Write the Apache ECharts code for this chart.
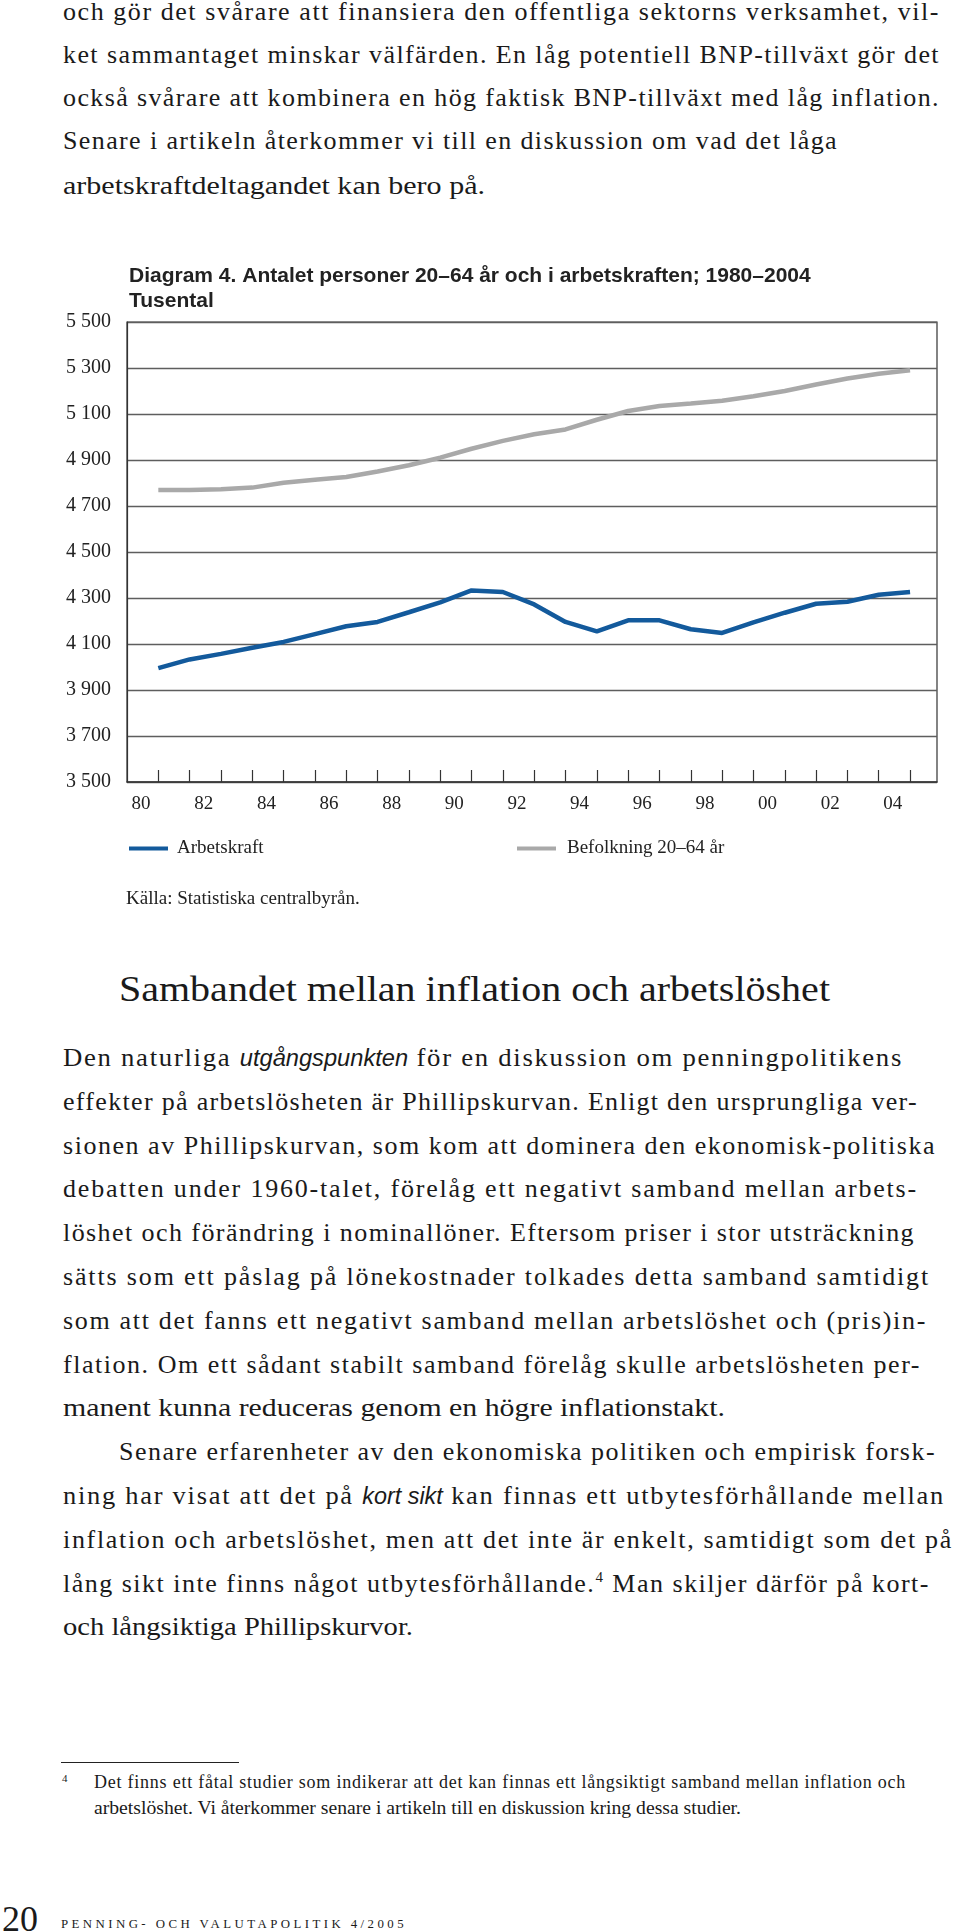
<!DOCTYPE html>
<html lang="sv">
<head>
<meta charset="utf-8">
<script src="https://cdn.jsdelivr.net/npm/echarts@6/dist/echarts.min.js"></script>
<style>
  html, body { margin:0; padding:0; background:#fff; }
  #page { position:relative; width:960px; height:1932px; overflow:hidden; background:#fff; color:#1a1a1a;
          font-family:"Liberation Serif","Times New Roman",serif; }
  .ln { position:absolute; white-space:nowrap; line-height:1; transform-origin:0 0; }
  .b { font-size:26px; }
  .ss { font-family:"Liberation Sans",Arial,sans-serif; font-style:italic; font-size:23px; letter-spacing:0 !important; }
  .h { font-size:35px; }
  .fn { font-size:18px; }
  sup { font-size:15px; vertical-align:0; position:relative; top:-10px; }
  #chart { position:absolute; left:0; top:230px; width:960px; height:700px; }
</style>
</head>
<body>
<div id="page">
  <!-- paragraph 1 -->
  <div class="ln b" data-x0="63" data-x1="940" data-yc="15" data-j="1">och gör det svårare att finansiera den offentliga sektorns verksamhet, vil-</div>
  <div class="ln b" data-x0="63" data-x1="940" data-yc="58" data-j="1">ket sammantaget minskar välfärden. En låg potentiell BNP-tillväxt gör det</div>
  <div class="ln b" data-x0="63" data-x1="940" data-yc="101" data-j="1">också svårare att kombinera en hög faktisk BNP-tillväxt med låg inflation.</div>
  <div class="ln b" data-x0="63" data-x1="838" data-yc="144" data-j="1">Senare i artikeln återkommer vi till en diskussion om vad det låga</div>
  <div class="ln b" data-x0="63" data-x1="485" data-yc="189">arbetskraftdeltagandet kan bero på.</div>

  <div id="chart"></div>

  <!-- heading -->
  <div class="ln h" data-x0="119" data-x1="830" data-yc="993">Sambandet mellan inflation och arbetslöshet</div>

  <!-- paragraph 2 -->
  <div class="ln b" data-x0="63" data-x1="903" data-yc="1061" data-j="1">Den naturliga <span class="ss">utgångspunkten</span> för en diskussion om penningpolitikens</div>
  <div class="ln b" data-x0="63" data-x1="918" data-yc="1105" data-j="1">effekter på arbetslösheten är Phillipskurvan. Enligt den ursprungliga ver-</div>
  <div class="ln b" data-x0="63" data-x1="936" data-yc="1149" data-j="1">sionen av Phillipskurvan, som kom att dominera den ekonomisk-politiska</div>
  <div class="ln b" data-x0="63" data-x1="918" data-yc="1192" data-j="1">debatten under 1960-talet, förelåg ett negativt samband mellan arbets-</div>
  <div class="ln b" data-x0="63" data-x1="915" data-yc="1236" data-j="1">löshet och förändring i nominallöner. Eftersom priser i stor utsträckning</div>
  <div class="ln b" data-x0="63" data-x1="930" data-yc="1280" data-j="1">sätts som ett påslag på lönekostnader tolkades detta samband samtidigt</div>
  <div class="ln b" data-x0="63" data-x1="927" data-yc="1324" data-j="1">som att det fanns ett negativt samband mellan arbetslöshet och (pris)in-</div>
  <div class="ln b" data-x0="63" data-x1="921" data-yc="1368" data-j="1">flation. Om ett sådant stabilt samband förelåg skulle arbetslösheten per-</div>
  <div class="ln b" data-x0="63" data-x1="725" data-yc="1411">manent kunna reduceras genom en högre inflationstakt.</div>
  <div class="ln b" data-x0="119" data-x1="936" data-yc="1455" data-j="1">Senare erfarenheter av den ekonomiska politiken och empirisk forsk-</div>
  <div class="ln b" data-x0="63" data-x1="945" data-yc="1499" data-j="1">ning har visat att det på <span class="ss">kort sikt</span> kan finnas ett utbytesförhållande mellan</div>
  <div class="ln b" data-x0="63" data-x1="953" data-yc="1543" data-j="1">inflation och arbetslöshet, men att det inte är enkelt, samtidigt som det på</div>
  <div class="ln b" data-x0="63" data-x1="930" data-yc="1587" data-j="1">lång sikt inte finns något utbytesförhållande.<sup>4</sup> Man skiljer därför på kort-</div>
  <div class="ln b" data-x0="63" data-x1="413" data-yc="1630">och långsiktiga Phillipskurvor.</div>

  <!-- footnote -->
  <div style="position:absolute;left:61px;top:1762px;width:178px;height:1.3px;background:#222;"></div>
  <div class="ln" style="left:62px;top:1773px;font-size:11px;">4</div>
  <div class="ln fn" data-x0="94" data-x1="906" data-yc="1784" data-j="1">Det finns ett fåtal studier som indikerar att det kan finnas ett långsiktigt samband mellan inflation och</div>
  <div class="ln fn" data-x0="94" data-x1="741" data-yc="1810">arbetslöshet. Vi återkommer senare i artikeln till en diskussion kring dessa studier.</div>

  <!-- footer -->
  <div class="ln" style="left:2px;top:1901px;font-size:36px;">20</div>
  <div class="ln" data-x0="61" data-x1="407" data-top="1918" style="font-size:12px;letter-spacing:3.2px;">PENNING- OCH VALUTAPOLITIK 4/2005</div>
</div>

<script>
// ---------- chart data ----------
const years = [1980,1981,1982,1983,1984,1985,1986,1987,1988,1989,1990,1991,1992,
               1993,1994,1995,1996,1997,1998,1999,2000,2001,2002,2003,2004];
const arbetskraft = [3995,4033,4057,4084,4109,4143,4177,4196,4238,4281,4333,4326,4272,
                     4196,4155,4203,4203,4164,4148,4194,4236,4275,4284,4314,4326];
const befolkning = [4770,4770,4773,4780,4801,4814,4826,4850,4877,4910,4949,4983,5012,
                    5033,5075,5113,5135,5146,5158,5177,5200,5228,5254,5275,5290];
const seriesNames = ['Arbetskraft', 'Befolkning 20–64 år'];
const xLabelYears = [1980,1982,1984,1986,1988,1990,1992,1994,1996,1998,2000,2002,2004];
const xTickLabels = ['80','82','84','86','88','90','92','94','96','98','00','02','04'];
const yTickValues = [3500,3700,3900,4100,4300,4500,4700,4900,5100,5300,5500];

// ---------- text fitting ----------
document.querySelectorAll('.ln[data-x0]').forEach(el => {
  const x0 = +el.dataset.x0, x1 = +el.dataset.x1;
  el.style.left = x0 + 'px';
  const fs = parseFloat(getComputedStyle(el).fontSize);
  if (el.dataset.yc) el.style.top = (+el.dataset.yc - 0.6 * fs) + 'px';
  else if (el.dataset.top) el.style.top = el.dataset.top + 'px';
  const target = x1 - x0;
  let w = el.getBoundingClientRect().width;
  if (el.dataset.j && w < target) {
    const n = el.textContent.length;
    const ls0 = parseFloat(getComputedStyle(el).letterSpacing) || 0;
    el.style.letterSpacing = (ls0 + (target - w) / n) + 'px';
    w = el.getBoundingClientRect().width;
  }
  if (Math.abs(w - target) > 0.5) el.style.transform = 'scaleX(' + (target / w) + ')';
});

// ---------- chart ----------
const LABEL_SHIFT = 0.55;
const chart = echarts.init(document.getElementById('chart'), null, { renderer: 'canvas' });
const serif = '"Liberation Serif","Times New Roman",serif';
chart.setOption({
  animation: false,
  backgroundColor: '#fff',
  title: {
    text: 'Diagram 4. Antalet personer 20–64 år och i arbetskraften; 1980–2004',
    subtext: 'Tusental',
    left: 124, top: 29, itemGap: 1,
    textStyle: { fontFamily: '"Liberation Sans Narrow","Liberation Sans",Arial,sans-serif',
                 fontWeight: 'bold', fontSize: 21, color: '#222', lineHeight: 24 },
    subtextStyle: { fontFamily: '"Liberation Sans Narrow","Liberation Sans",Arial,sans-serif',
                    fontWeight: 'bold', fontSize: 21, color: '#222', lineHeight: 24 }
  },
  grid: { left: 127, right: 23, top: 92, height: 460, show: true,
          borderColor: '#333', borderWidth: 1.2, backgroundColor: 'transparent', containLabel: false },
  legend: [
    { data: [seriesNames[0]], left: 124, top: 604, icon: 'rect', itemWidth: 39, itemHeight: 4,
      textStyle: { fontFamily: serif, fontSize: 19, color: '#222', padding: [0,0,0,4] } },
    { data: [seriesNames[1]], left: 512, top: 604, icon: 'rect', itemWidth: 39, itemHeight: 4,
      textStyle: { fontFamily: serif, fontSize: 19, color: '#222', padding: [0,0,0,6] } }
  ],
  graphic: [{
    type: 'text', left: 126, top: 660,
    style: { text: 'Källa: Statistiska centralbyrån.', font: '19px ' + serif, fill: '#222' }
  }],
  xAxis: {
    type: 'value', min: 1979, max: 2004.86,
    axisLine: { show: true, lineStyle: { color: '#333', width: 1.5 } },
    axisTick: { show: true, inside: true, length: 12, customValues: years,
                lineStyle: { color: '#333', width: 1.2 } },
    splitLine: { show: false },
    axisLabel: {
      customValues: xLabelYears.map(y => y - LABEL_SHIFT),
      formatter: v => {
        const i = xLabelYears.findIndex(y => Math.abs(y - LABEL_SHIFT - v) < 1e-6);
        return i >= 0 ? xTickLabels[i] : '';
      },
      fontFamily: serif, fontSize: 19, color: '#222', margin: 13
    }
  },
  yAxis: {
    type: 'value',
    min: yTickValues[0], max: yTickValues[yTickValues.length - 1],
    interval: yTickValues[1] - yTickValues[0],
    axisLine: { show: true, lineStyle: { color: '#333', width: 1.2 } },
    axisTick: { show: false },
    splitLine: { show: true, lineStyle: { color: '#5e5e5e', width: 1.3 } },
    axisLabel: {
      formatter: v => String(v).replace(/\B(?=(\d{3})+(?!\d))/g, ' '),
      fontFamily: serif, fontSize: 20, color: '#222', margin: 16
    }
  },
  series: [
    { name: seriesNames[0], type: 'line', showSymbol: false, symbol: 'none',
      data: years.map((y, i) => [y, arbetskraft[i]]),
      lineStyle: { color: '#135a9c', width: 4.5 }, itemStyle: { color: '#135a9c' }, z: 3 },
    { name: seriesNames[1], type: 'line', showSymbol: false, symbol: 'none',
      data: years.map((y, i) => [y, befolkning[i]]),
      lineStyle: { color: '#a9a9a9', width: 4.5 }, itemStyle: { color: '#a9a9a9' }, z: 2 }
  ]
});
</script>
</body>
</html>
